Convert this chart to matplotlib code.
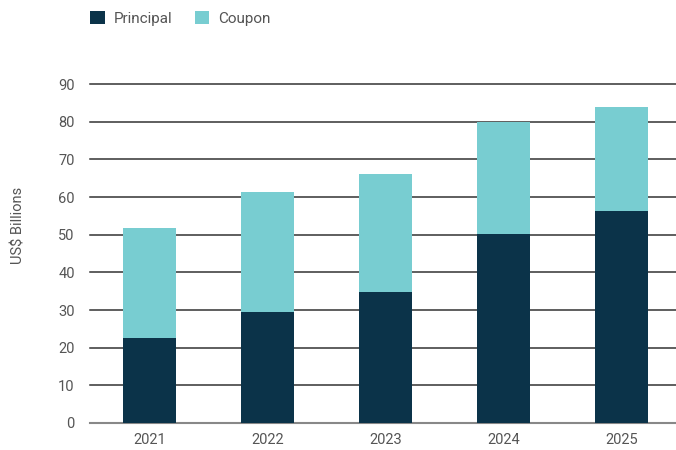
import matplotlib.pyplot as plt
import numpy as np

years = ['2021', '2022', '2023', '2024', '2025']
principal = [22.6, 29.5, 34.8, 50.2, 56.3]
coupon = [29.2, 31.8, 31.3, 29.8, 27.6]

plt.rcParams['font.family'] = ['Roboto', 'DejaVu Sans']
text_color = '#555555'

fig = plt.figure(figsize=(6.76, 4.5), dpi=100)
ax = fig.add_axes([0.133, 0.06, 0.867, 0.753])

ind = np.arange(len(years))
width = 0.45
ax.bar(ind, principal, width, color='#0b3349', label='Principal', zorder=3)
ax.bar(ind, coupon, width, bottom=principal, color='#78cdd1', label='Coupon', zorder=3)

ax.set_ylim(0, 90)
ax.set_xlim(-0.505, 4.46)
ax.set_yticks(np.arange(0, 91, 10))
ax.set_xticks(ind)
ax.set_xticklabels(years)
ax.yaxis.grid(True, color='#333333', linewidth=1.1, zorder=0)
ax.set_axisbelow(True)
for side in ['top', 'right', 'left']:
    ax.spines[side].set_visible(False)
ax.spines['bottom'].set_color('#888888')
ax.spines['bottom'].set_linewidth(1.5)
ax.tick_params(axis='both', length=0, labelsize=10.5, colors=text_color)
ax.tick_params(axis='y', pad=11)
ax.tick_params(axis='x', pad=7)
for gl in ax.get_ygridlines():
    gl.set_clip_on(False)

fig.text(0.027, 0.5, 'US$ Billions', rotation=90, va='center', ha='center',
         fontsize=10.5, color=text_color)

fig.legend(loc='upper left', bbox_to_anchor=(0.113, 1.006), ncol=2, frameon=False,
           fontsize=11, labelcolor=text_color, handlelength=0.95, handleheight=0.95,
           columnspacing=1.45, handletextpad=0.6)

plt.savefig('out.png', dpi=100)
